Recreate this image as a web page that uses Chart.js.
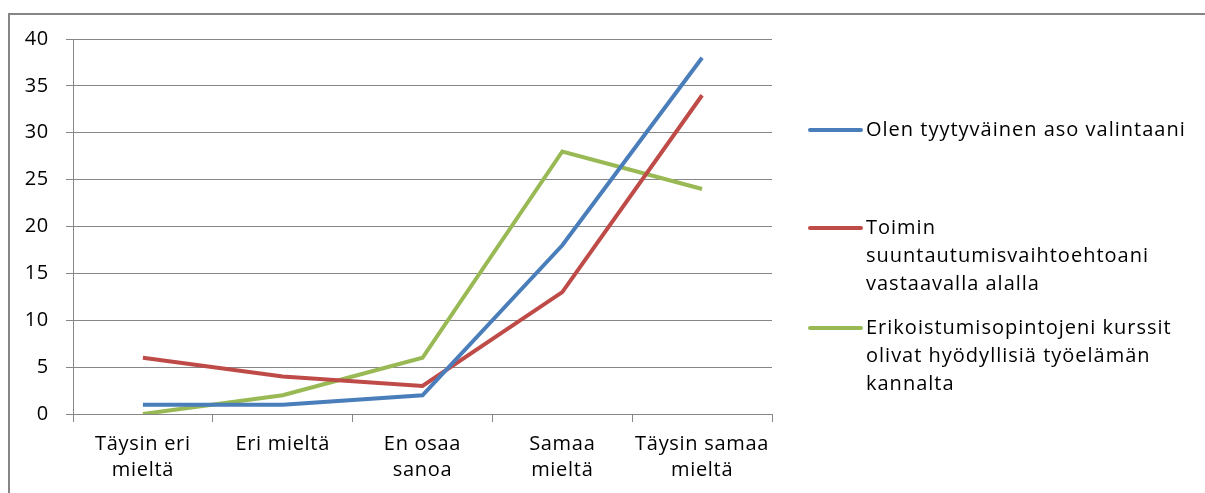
<!DOCTYPE html>
<html>
<head>
<meta charset="utf-8">
<script src="https://cdn.jsdelivr.net/npm/chart.js@4.4.1/dist/chart.umd.min.js"></script>
<style>
  html, body { margin: 0; padding: 0; background: #fff; }
  #wrap { position: relative; width: 1205px; height: 493px; overflow: hidden; }
  #frame { position: absolute; left: 8px; top: 13px; width: 1300px; height: 600px;
           border-left: 2px solid #868686; border-top: 2px solid #868686; }
  canvas { position: absolute; left: 0; top: 0; }
</style>
</head>
<body>
<div id="wrap">
  <div id="frame"></div>
  <canvas id="chart" width="1205" height="493"></canvas>
</div>
<script>
const categories = [
  ['Täysin eri', 'mieltä'],
  'Eri mieltä',
  ['En osaa', 'sanoa'],
  ['Samaa', 'mieltä'],
  ['Täysin samaa', 'mieltä']
];
const seriesNames = [
  ['Olen tyytyväinen aso valintaani'],
  ['Toimin', 'suuntautumisvaihtoehtoani', 'vastaavalla alalla'],
  ['Erikoistumisopintojeni kurssit', 'olivat hyödyllisiä työelämän', 'kannalta']
];
const tyytyvainen = [1, 1, 2, 18, 38];
const toimin = [6, 4, 3, 13, 34];
const kurssit = [0, 2, 6, 28, 24];
const colors = ['#4A7EBB', '#BE4B48', '#98B954'];

const FONT = '"Open Sans", Lato, sans-serif';
const GRID = '#868686';

// a little tracking, the original text is set loose
const spacing = {
  id: 'spacing',
  beforeDraw(chart) { chart.ctx.letterSpacing = '0.7px'; }
};

// legend drawn at the right, like the original
const sideLegend = {
  id: 'sideLegend',
  afterDraw(chart) {
    const ctx = chart.ctx;
    const rows = [130, 228, 328];
    ctx.save();
    ctx.font = '20px ' + FONT;
    ctx.letterSpacing = '1px';
    ctx.textBaseline = 'middle';
    ctx.fillStyle = '#000';
    chart.data.datasets.forEach((ds, i) => {
      const y = rows[i];
      ctx.strokeStyle = ds.borderColor;
      ctx.lineWidth = 4;
      ctx.lineCap = 'round';
      ctx.beginPath();
      ctx.moveTo(810, y);
      ctx.lineTo(861, y);
      ctx.stroke();
      seriesNames[i].forEach((line, j) => {
        ctx.fillText(line, 866, y + j * 28);
      });
    });
    ctx.restore();
  }
};

new Chart(document.getElementById('chart'), {
  type: 'line',
  data: {
    labels: categories,
    datasets: [tyytyvainen, toimin, kurssit].map((d, i) => ({
      label: seriesNames[i].join(' '),
      data: d,
      borderColor: colors[i],
      backgroundColor: colors[i],
      borderWidth: 4,
      pointRadius: 0,
      tension: 0
    }))
  },
  options: {
    responsive: false,
    animation: false,
    layout: { padding: { left: 0, top: 39, right: 433, bottom: 0 } },
    plugins: { legend: { display: false }, tooltip: { enabled: false } },
    scales: {
      x: {
        offset: true,
        grid: { offset: true, drawOnChartArea: false, drawTicks: true, tickLength: 8, color: GRID },
        border: { color: GRID, width: 1 },
        ticks: { color: '#000', font: { family: FONT, size: 20, lineHeight: 1.3 }, padding: 9, maxRotation: 0, autoSkip: false },
        afterFit(scale) { scale.height = 79; }
      },
      y: {
        min: 0, max: 40,
        grid: { color: GRID, tickLength: 7 },
        border: { color: GRID, width: 1 },
        ticks: { stepSize: 5, color: '#000', font: { family: FONT, size: 20 }, padding: 17 },
        afterFit(scale) { scale.width = 73; }
      }
    }
  },
  plugins: [spacing, sideLegend]
});
</script>
</body>
</html>
